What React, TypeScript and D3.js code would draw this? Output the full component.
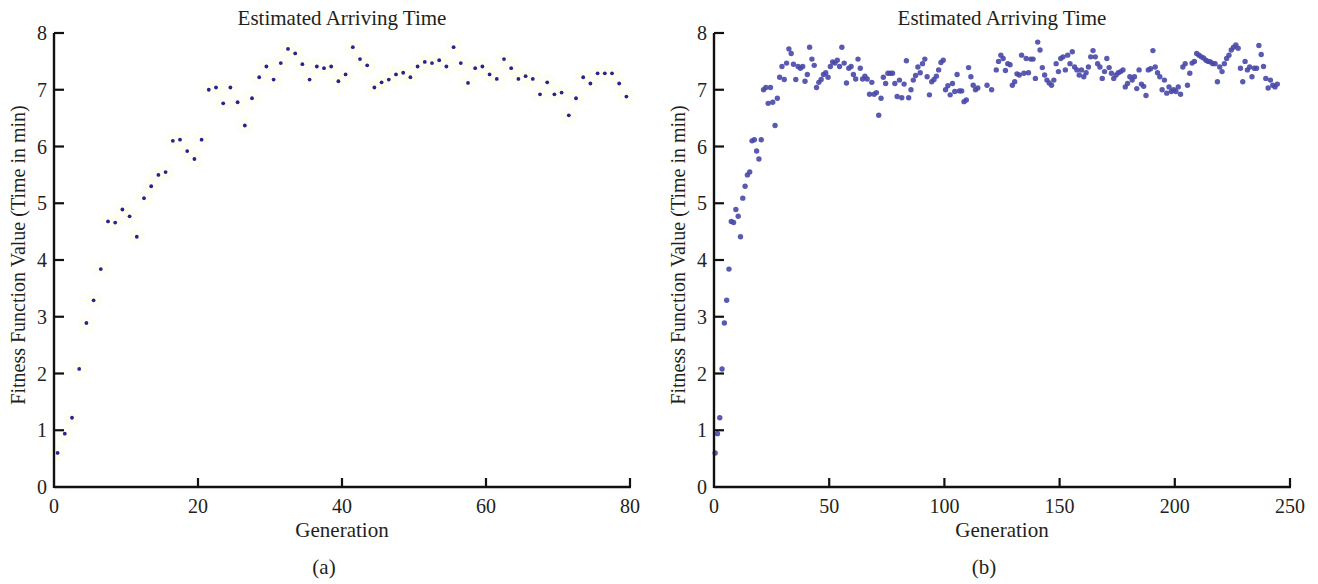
import React, { useLayoutEffect } from "react";
import * as d3 from "d3";

// Panel (a): fitness value per generation (80 generations)
const valuesA: number[] = [
  0.6, 0.94, 1.22, 2.08, 2.89, 3.29, 3.84, 4.68, 4.66, 4.89,
  4.77, 4.41, 5.09, 5.3, 5.5, 5.55, 6.1, 6.12, 5.92, 5.78,
  6.12, 7.0, 7.04, 6.76, 7.04, 6.78, 6.37, 6.85, 7.22, 7.41,
  7.18, 7.47, 7.72, 7.64, 7.45, 7.18, 7.41, 7.38, 7.41, 7.15,
  7.27, 7.75, 7.54, 7.43, 7.04, 7.13, 7.18, 7.27, 7.3, 7.22,
  7.41, 7.49, 7.47, 7.52, 7.41, 7.75, 7.47, 7.12, 7.38, 7.41,
  7.27, 7.19, 7.54, 7.38, 7.19, 7.24, 7.19, 6.92, 7.13, 6.92,
  6.95, 6.55, 6.85, 7.22, 7.11, 7.29, 7.29, 7.29, 7.11, 6.88,
];

// Panel (b): continuation after generation 80 (null = no point)
const valuesBExtra: (number | null)[] = [
  7.17, 6.86, 7.1, 7.51, 6.86, 7.0, 7.17, 7.25, 7.4, 7.3,
  7.46, 7.54, 7.23, 6.91, 7.14, 7.18, 7.24, 7.35, 7.48, 7.52,
  7.0, 7.07, 6.91, 7.11, 6.97, 7.27, 6.98, 6.98, 6.79, 6.82,
  7.39, 7.23, 7.08, 7.0, 7.03, null, null, null, 7.08, null,
  7.0, null, 7.35, 7.5, 7.61, 7.55, 7.34, 7.46, 7.44, 7.08,
  7.14, 7.28, 7.26, 7.61, 7.29, 7.55, 7.3, 7.54, 7.54, 7.2,
  7.84, 7.7, 7.39, 7.26, 7.17, 7.12, 7.08, 7.17, 7.46, 7.32,
  7.55, 7.58, 7.35, 7.61, 7.46, 7.67, 7.4, 7.35, 7.26, 7.35,
  7.23, 7.3, 7.4, 7.58, 7.69, 7.58, 7.46, 7.4, 7.2, 7.32,
  7.55, 7.39, 7.29, 7.2, 7.26, 7.3, 7.32, 7.35, 7.05, 7.11,
  7.23, 7.17, 7.23, 7.02, 7.35, 7.1, 7.06, 6.9, 7.35, 7.37,
  7.69, 7.4, 7.3, 7.23, 7.0, 7.17, 6.94, 7.05, 6.97, 7.0,
  6.97, 7.05, 6.92, 7.4, 7.46, 7.08, 7.29, 7.47, 7.5, 7.64,
  7.61, 7.58, 7.56, 7.52, 7.5, 7.49, 7.46, 7.46, 7.14, 7.4,
  7.32, 7.46, 7.55, 7.61, 7.7, 7.75, 7.79, 7.73, 7.38, 7.14,
  7.5, 7.35, 7.4, 7.23, 7.38, 7.38, 7.78, 7.62, 7.41, 7.2,
  7.03, 7.17, 7.08, 7.05, 7.1,
];
const valuesB: (number | null)[] = [...valuesA, ...valuesBExtra];

const xTicksA = [0, 20, 40, 60, 80];
const xTicksB = [0, 50, 100, 150, 200, 250];
const yTicks = [0, 1, 2, 3, 4, 5, 6, 7, 8];

const TITLE = "Estimated Arriving Time";
const Y_LABEL = "Fitness Function Value (Time in min)";
const X_LABEL = "Generation";

const FONT = "'Liberation Serif', 'DejaVu Serif', serif";
const TEXT = "#231f20";

type PanelProps = {
  values: (number | null)[];
  xMax: number;
  xTicks: number[];
  left: number;
  right: number;
  tag: string;
  variant: "a" | "b";
};

function Panel({ values, xMax, xTicks, left, right, tag, variant }: PanelProps) {
  const top = 33;
  const bottom = 487;
  const x = d3.scaleLinear().domain([0, xMax]).range([left, right]);
  const y = d3.scaleLinear().domain([0, 8]).range([bottom, top]);
  const cx = (left + right) / 2;
  const pts = values
    .map((v, i) => ({ g: i + 0.5, v }))
    .filter((d) => d.v !== null) as { g: number; v: number }[];

  return (
    <g>
      <text x={cx} y={25} textAnchor="middle" fontSize={21} fontFamily={FONT} fill={TEXT}>
        {TITLE}
      </text>
      {variant === "a" &&
        pts.map((d, i) => (
          <circle key={"h" + i} cx={x(d.g)} cy={y(d.v)} r={9} fill="#fffdf0" opacity={0.6} />
        ))}
      {pts.map((d, i) =>
        variant === "a" ? (
          <circle key={i} cx={x(d.g)} cy={y(d.v)} r={1.9} fill="#26238a" />
        ) : (
          <circle key={i} cx={x(d.g)} cy={y(d.v)} r={2.7} fill="#4848a8" opacity={0.9} filter="url(#soft)" />
        )
      )}
      {/* axes */}
      <line x1={left} x2={right + 1} y1={bottom} y2={bottom} stroke="#111" strokeWidth={2.4} />
      <line x1={left} x2={left} y1={bottom + 1} y2={top} stroke="#111" strokeWidth={2.4} />
      {yTicks.map((t) => (
        <g key={"y" + t}>
          {t > 0 && <line x1={left} x2={left + 10} y1={y(t)} y2={y(t)} stroke="#111" strokeWidth={2.2} />}
          <text x={left - 7} y={y(t) + 7} textAnchor="end" fontSize={20} fontFamily={FONT} fill={TEXT}>
            {t}
          </text>
        </g>
      ))}
      {xTicks.map((t) => (
        <g key={"x" + t}>
          {t > 0 && <line x1={x(t)} x2={x(t)} y1={bottom} y2={bottom - 9} stroke="#111" strokeWidth={2.2} />}
          <text x={x(t)} y={513} textAnchor="middle" fontSize={20} fontFamily={FONT} fill={TEXT}>
            {t}
          </text>
        </g>
      ))}
      <text x={cx} y={537} textAnchor="middle" fontSize={21} fontFamily={FONT} fill={TEXT}>
        {X_LABEL}
      </text>
      <text x={cx - 18} y={574} textAnchor="middle" fontSize={21} fontFamily={FONT} fill={TEXT}>
        {tag}
      </text>
      <text
        transform={`translate(${left - 29},${(top + bottom) / 2 - 5}) rotate(-90)`}
        textAnchor="middle"
        fontSize={20}
        fontFamily={FONT}
        fill={TEXT}
      >
        {Y_LABEL}
      </text>
    </g>
  );
}

export default function App() {
  useLayoutEffect(() => {
    document.body.style.margin = "0";
  }, []);
  return (
    <svg width={1318} height={584} style={{ display: "block", background: "#fff" }}>
      <defs>
        <filter id="soft" x="-50%" y="-50%" width="200%" height="200%">
          <feGaussianBlur stdDeviation="0.5" />
        </filter>
      </defs>
      <Panel values={valuesA} xMax={80} xTicks={xTicksA} left={54} right={630} tag="(a)" variant="a" />
      <Panel values={valuesB} xMax={250} xTicks={xTicksB} left={714} right={1290} tag="(b)" variant="b" />
    </svg>
  );
}
